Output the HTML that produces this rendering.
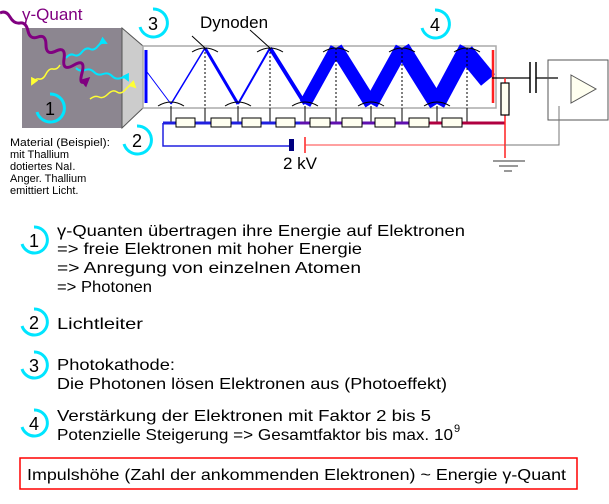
<!DOCTYPE html>
<html><head><meta charset="utf-8"><style>
html,body{margin:0;padding:0;background:#fff;}
svg{display:block;font-family:"Liberation Sans",sans-serif;}
</style></head><body>
<svg width="609" height="504" viewBox="0 0 609 504" xmlns="http://www.w3.org/2000/svg">
<defs>
<marker id="ac" markerWidth="8" markerHeight="8" refX="6" refY="4" orient="auto" markerUnits="userSpaceOnUse"><path d="M0,0 L8,4 L0,8 z" fill="#00e5ff"/></marker>
<marker id="ay" markerWidth="8" markerHeight="8" refX="6" refY="4" orient="auto" markerUnits="userSpaceOnUse"><path d="M0,0 L8,4 L0,8 z" fill="#ffff33"/></marker>
<marker id="ap" markerWidth="10" markerHeight="10" refX="7" refY="5" orient="auto" markerUnits="userSpaceOnUse"><path d="M0,0 L10,5 L0,10 z" fill="#800080"/></marker>
</defs>
<rect x="22" y="28" width="100" height="100" fill="#8c8690"/>
<polygon points="122,28 143,46 143,108 122,128" fill="#cccccc" stroke="#555" stroke-width="1"/>
<path d="M66,58 q4,-5 8,-3 t8,-3 t8,-3 t8,-3 t8,-3" fill="none" stroke="#00e5ff" stroke-width="2" marker-end="url(#ac)"/>
<path d="M76,68 q4,4 9,2 t9,2 t9,2 t9,2 t9,2 t7,2" fill="none" stroke="#00e5ff" stroke-width="2" marker-end="url(#ac)"/>
<path d="M60,65 q-3,5 -7,4 t-7,5 t-7,5 t-7,5" fill="none" stroke="#ffff33" stroke-width="1.5" marker-end="url(#ay)"/>
<path d="M90,99 q5,-4 9,-2 t9,-3 t9,-2 t9,-3 t9,-2" fill="none" stroke="#ffff33" stroke-width="1.5" marker-end="url(#ay)"/>
<path d="M0,13 q6,-3 10,4 t10,6 t8,8 t10,6 t8,8 t10,6 t8,8 t10,6 t8,8 t6,6" fill="none" stroke="#800080" stroke-width="3" marker-end="url(#ap)"/>
<text x="22" y="20" font-size="17" fill="#800080">γ-Quant</text>
<rect x="143" y="46" width="353" height="62" fill="none" stroke="#aaa" stroke-width="1.5"/>
<line x1="146" y1="50" x2="146" y2="103" stroke="#0000ff" stroke-width="3"/>
<g stroke="#0000ff" fill="none">
<line x1="147" y1="72" x2="171" y2="104" stroke-width="1"/>
<line x1="171" y1="104" x2="205" y2="48" stroke-width="1.5"/>
<line x1="205" y1="48" x2="238" y2="104" stroke-width="3"/>
<line x1="238" y1="104" x2="270" y2="48" stroke-width="2"/>
<line x1="270" y1="48" x2="305" y2="104" stroke-width="4"/>
<line x1="305" y1="104" x2="336" y2="48" stroke-width="12"/>
<line x1="336" y1="48" x2="371" y2="104" stroke-width="13"/>
<line x1="371" y1="104" x2="402" y2="48" stroke-width="14"/>
<line x1="402" y1="48" x2="437" y2="104" stroke-width="16"/>
<line x1="437" y1="104" x2="467" y2="48" stroke-width="16"/>
<line x1="465" y1="52" x2="488" y2="80" stroke-width="18"/>
</g>
<line x1="493" y1="50" x2="493" y2="103" stroke="#ff2020" stroke-width="2.5"/>
<g stroke="#000" stroke-width="1" fill="none">
<path d="M192,52 q13,-8 26,0 M257,52 q13,-8 26,0 M323,52 q13,-8 26,0 M389,52 q13,-8 26,0 M454,52 q13,-8 26,0"/>
<path d="M158,106 q13,-8 26,0 M225,106 q13,-8 26,0 M292,106 q13,-8 26,0 M358,106 q13,-8 26,0 M424,106 q13,-8 26,0"/>
<g stroke-dasharray="2,2"><line x1="205" y1="48" x2="205" y2="108"/><line x1="270" y1="48" x2="270" y2="108"/><line x1="336" y1="48" x2="336" y2="108"/><line x1="402" y1="48" x2="402" y2="108"/><line x1="467" y1="48" x2="467" y2="108"/></g>
<path d="M171,106V123 M238,106V123 M305,106V123 M371,106V123 M437,106V123 M205,108V123 M270,108V123 M336,108V123 M402,108V123 M467,108V123"/>
<line x1="192" y1="36" x2="205" y2="48"/><line x1="250" y1="30" x2="270" y2="48"/>
</g>
<text x="200" y="28" font-size="17">Dynoden</text>
<line x1="163" y1="123" x2="300" y2="123" stroke="#2020e0" stroke-width="3"/>
<line x1="300" y1="123" x2="420" y2="123" stroke="#6010b0" stroke-width="3"/>
<line x1="420" y1="123" x2="505" y2="123" stroke="#b00040" stroke-width="3"/>
<g fill="#fffff0" stroke="#000" stroke-width="1">
<rect x="176" y="118" width="19" height="9"/><rect x="211" y="118" width="20" height="9"/><rect x="242" y="118" width="19" height="9"/><rect x="276" y="118" width="19" height="9"/><rect x="310" y="118" width="20" height="9"/><rect x="342" y="118" width="20" height="9"/><rect x="375" y="118" width="20" height="9"/><rect x="409" y="118" width="20" height="9"/><rect x="442" y="118" width="20" height="9"/>
</g>
<polyline points="163,123 163,146 289,146" fill="none" stroke="#2020e0" stroke-width="1.5"/>
<rect x="289" y="139" width="5" height="12" fill="#000080"/>
<line x1="305" y1="137" x2="305" y2="153" stroke="#ff2020" stroke-width="1.5"/>
<line x1="305" y1="145" x2="505" y2="145" stroke="#ff4040" stroke-width="1"/>
<text x="283" y="169" font-size="17">2 kV</text>
<line x1="492" y1="78" x2="530" y2="78" stroke="#000" stroke-width="1.2"/>
<line x1="536" y1="78" x2="558" y2="78" stroke="#000" stroke-width="1.2"/>
<line x1="530" y1="62" x2="530" y2="93" stroke="#000" stroke-width="1.5"/>
<line x1="536" y1="62" x2="536" y2="93" stroke="#000" stroke-width="1.5"/>
<line x1="505" y1="78" x2="505" y2="158" stroke="#ff2020" stroke-width="1.5"/>
<rect x="501" y="83" width="8" height="32" fill="#fffff0" stroke="#000" stroke-width="1.2"/>
<rect x="548" y="60" width="60" height="60" fill="none" stroke="#555" stroke-width="1"/>
<polygon points="571,75 596,89 571,103" fill="#fffff0" stroke="#555" stroke-width="1"/>
<polyline points="559,106 559,145 505,145" fill="none" stroke="#777" stroke-width="1"/>
<g stroke="#333" stroke-width="1"><line x1="493" y1="161" x2="525" y2="161"/><line x1="499" y1="166" x2="518" y2="166"/><line x1="504" y1="171" x2="512" y2="171"/></g>
<g fill="none" stroke="#00e5ff" stroke-width="3">
<path d="M50,94 a14,14 0 1 1 -13,18"/>
<path d="M153,9 a14,14 0 1 1 -13,18"/>
<path d="M137,126 a14,14 0 1 1 -13,18"/>
<path d="M435,10 a14,14 0 1 1 -13,18"/>
<path d="M34,227 a13,13 0 1 1 -12,17"/>
<path d="M34,309 a13,13 0 1 1 -12,17"/>
<path d="M34,352 a13,13 0 1 1 -12,17"/>
<path d="M34,410 a13,13 0 1 1 -12,17"/>
</g>
<g font-size="18" text-anchor="middle">
<text x="50" y="115">1</text><text x="153" y="30">3</text><text x="137" y="147">2</text><text x="435" y="31">4</text>
<text x="34" y="247">1</text><text x="34" y="329">2</text><text x="34" y="372">3</text><text x="34" y="430">4</text>
</g>
<g font-size="11">
<text x="10" y="146" textLength="100" lengthAdjust="spacingAndGlyphs">Material (Beispiel):</text>
<text x="10" y="158">mit Thallium</text>
<text x="10" y="170">dotiertes NaI.</text>
<text x="10" y="182">Anger. Thallium</text>
<text x="10" y="194">emittiert Licht.</text>
</g>
<g font-size="16">
<text x="57" y="236" textLength="408" lengthAdjust="spacingAndGlyphs">γ-Quanten übertragen ihre Energie auf Elektronen</text>
<text x="57" y="254" textLength="305" lengthAdjust="spacingAndGlyphs">=&gt; freie Elektronen mit hoher Energie</text>
<text x="57" y="273" textLength="304" lengthAdjust="spacingAndGlyphs">=&gt; Anregung von einzelnen Atomen</text>
<text x="57" y="292" textLength="95" lengthAdjust="spacingAndGlyphs">=&gt; Photonen</text>
<text x="57" y="329" textLength="86" lengthAdjust="spacingAndGlyphs">Lichtleiter</text>
<text x="57" y="370" textLength="118" lengthAdjust="spacingAndGlyphs">Photokathode:</text>
<text x="57" y="389" textLength="390" lengthAdjust="spacingAndGlyphs">Die Photonen lösen Elektronen aus (Photoeffekt)</text>
<text x="57" y="421" textLength="374" lengthAdjust="spacingAndGlyphs">Verstärkung der Elektronen mit Faktor 2 bis 5</text>
<text x="57" y="440" textLength="396" lengthAdjust="spacingAndGlyphs">Potenzielle Steigerung =&gt; Gesamtfaktor bis max. 10</text>
<text x="454" y="432" font-size="11">9</text>
<rect x="20" y="458" width="557" height="31" fill="none" stroke="#ff0000" stroke-width="1.5"/>
<text x="27" y="480" textLength="539" lengthAdjust="spacingAndGlyphs">Impulshöhe (Zahl der ankommenden Elektronen) ~ Energie γ-Quant</text>
</g>
</svg>
</body></html>
